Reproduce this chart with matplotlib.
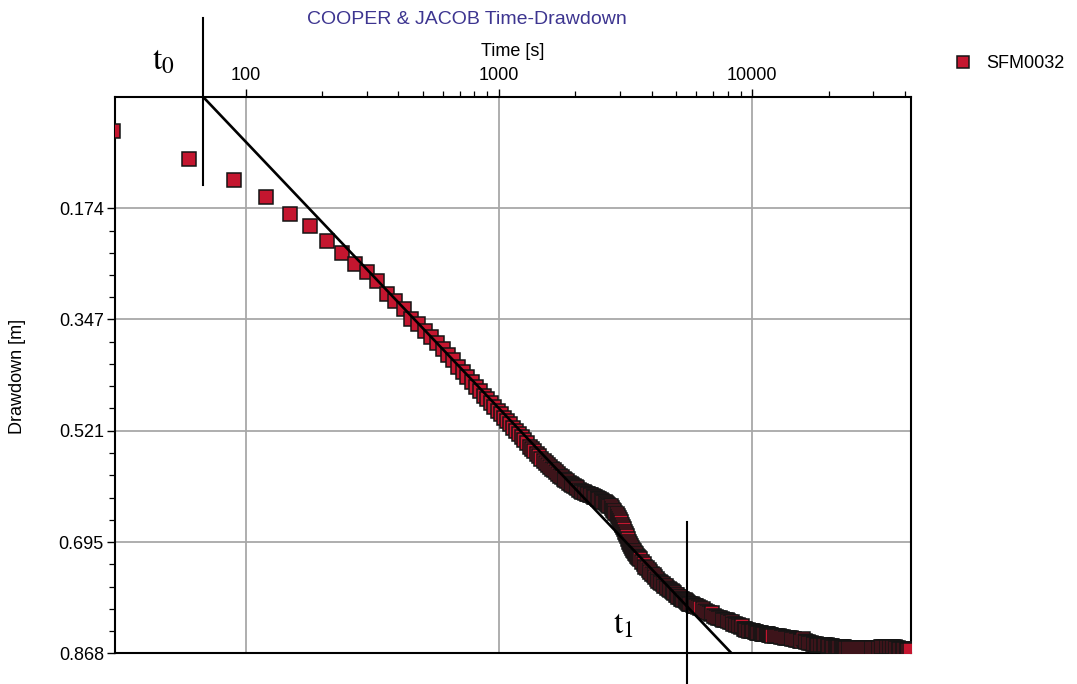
import numpy as np
import matplotlib
matplotlib.use("Agg")
import matplotlib.pyplot as plt
from matplotlib.lines import Line2D
from matplotlib.ticker import FixedLocator, NullFormatter

plt.rcParams['font.family'] = ['Liberation Sans', 'DejaVu Sans']
plt.rcParams['mathtext.fontset'] = 'stix'

# Pumping test SFM0032: elapsed time [s] and drawdown [m]
time_s = [
    # 30 s readings
    30, 60, 90, 120, 150, 180, 210, 240, 270, 300,
    330, 360, 390, 420, 450, 480, 510, 540, 570, 600,
    630, 660, 690, 720, 750, 780, 810, 840, 870, 900,
    930, 960, 990, 1020, 1050, 1080, 1110, 1140, 1170, 1200,
    1230, 1260, 1290, 1320, 1350, 1380, 1410, 1440, 1470, 1500,
    1530, 1560, 1590, 1620, 1650, 1680, 1710, 1740, 1770, 1800,
    1830, 1860, 1890, 1920, 1950, 1980, 2010, 2040, 2070, 2100,
    2130, 2160, 2190, 2220, 2250, 2280, 2310, 2340, 2370, 2400,
    2430, 2460, 2490, 2520, 2550, 2580, 2610, 2640, 2670, 2700,
    2730, 2760, 2790, 2820, 2850, 2880, 2910, 2940, 2970, 3000,
    3030, 3060, 3090, 3120, 3150, 3180, 3210, 3240, 3270, 3300,
    3330, 3360, 3390, 3420, 3450, 3480, 3510, 3540, 3570, 3600,
    # 60 s readings
    3660, 3720, 3780, 3840, 3900, 3960, 4020, 4080, 4140, 4200,
    4260, 4320, 4380, 4440, 4500, 4560, 4620, 4680, 4740, 4800,
    4860, 4920, 4980, 5040, 5100, 5160, 5220, 5280, 5340, 5400,
    5460, 5520, 5580, 5640, 5700, 5760, 5820, 5880, 5940, 6000,
    # 120 s readings
    6120, 6240, 6360, 6480, 6600, 6720, 6840, 6960, 7080, 7200,
    7320, 7440, 7560, 7680, 7800, 7920, 8040, 8160, 8280, 8400,
    8520, 8640, 8760, 8880, 9000, 9120, 9240, 9360, 9480, 9600,
    9720, 9840, 9960, 10080, 10200, 10320, 10440, 10560, 10680, 10800,
    10920, 11040, 11160, 11280, 11400, 11520, 11640, 11760, 11880, 12000,
    # 240 s readings
    12240, 12480, 12720, 12960, 13200, 13440, 13680, 13920, 14160, 14400,
    14640, 14880, 15120, 15360, 15600, 15840, 16080, 16320, 16560, 16800,
    17040, 17280, 17520, 17760, 18000, 18240, 18480, 18720, 18960, 19200,
    19440, 19680, 19920, 20160, 20400, 20640, 20880, 21120, 21360, 21600,
    21840, 22080, 22320, 22560, 22800, 23040, 23280, 23520, 23760, 24000,
    # 480 s readings
    24480, 24960, 25440, 25920, 26400, 26880, 27360, 27840, 28320, 28800,
    29280, 29760, 30240, 30720, 31200, 31680, 32160, 32640, 33120, 33600,
    34080, 34560, 35040, 35520, 36000, 36480, 36960, 37440, 37920, 38400,
    38880, 39360, 39840, 40320, 40800, 41280, 41760,
]
drawdown_m = [
    0.053, 0.097, 0.130, 0.156, 0.182, 0.202, 0.225, 0.244, 0.260, 0.273,
    0.287, 0.307, 0.318, 0.331, 0.346, 0.354, 0.365, 0.375, 0.384, 0.394,
    0.403, 0.411, 0.421, 0.430, 0.437, 0.445, 0.452, 0.459, 0.467, 0.472,
    0.478, 0.484, 0.490, 0.495, 0.501, 0.506, 0.510, 0.517, 0.522, 0.526,
    0.531, 0.536, 0.540, 0.546, 0.549, 0.553, 0.557, 0.561, 0.565, 0.568,
    0.571, 0.574, 0.577, 0.580, 0.583, 0.586, 0.589, 0.592, 0.594, 0.596,
    0.598, 0.600, 0.602, 0.604, 0.606, 0.608, 0.609, 0.611, 0.613, 0.615,
    0.616, 0.617, 0.618, 0.619, 0.620, 0.621, 0.622, 0.623, 0.624, 0.625,
    0.626, 0.627, 0.628, 0.629, 0.630, 0.632, 0.633, 0.634, 0.635, 0.637,
    0.638, 0.639, 0.641, 0.644, 0.646, 0.649, 0.651, 0.654, 0.657, 0.660,
    0.664, 0.668, 0.671, 0.675, 0.679, 0.683, 0.686, 0.690, 0.694, 0.698,
    0.701, 0.704, 0.707, 0.709, 0.712, 0.714, 0.716, 0.718, 0.720, 0.722,
    0.726, 0.729, 0.733, 0.736, 0.739, 0.742, 0.745, 0.747, 0.750, 0.752,
    0.755, 0.757, 0.759, 0.761, 0.763, 0.764, 0.766, 0.768, 0.770, 0.771,
    0.773, 0.775, 0.777, 0.778, 0.780, 0.781, 0.783, 0.784, 0.785, 0.786,
    0.787, 0.788, 0.790, 0.791, 0.791, 0.792, 0.793, 0.794, 0.795, 0.795,
    0.796, 0.798, 0.800, 0.802, 0.804, 0.806, 0.807, 0.805, 0.811, 0.812,
    0.813, 0.814, 0.815, 0.816, 0.817, 0.817, 0.818, 0.819, 0.820, 0.822,
    0.823, 0.824, 0.825, 0.826, 0.827, 0.826, 0.830, 0.831, 0.832, 0.832,
    0.833, 0.833, 0.834, 0.834, 0.835, 0.835, 0.836, 0.836, 0.837, 0.837,
    0.838, 0.838, 0.838, 0.839, 0.839, 0.839, 0.840, 0.840, 0.840, 0.841,
    0.841, 0.842, 0.842, 0.843, 0.843, 0.844, 0.844, 0.845, 0.845, 0.846,
    0.846, 0.847, 0.848, 0.849, 0.849, 0.846, 0.850, 0.851, 0.851, 0.852,
    0.853, 0.854, 0.854, 0.854, 0.855, 0.855, 0.855, 0.855, 0.856, 0.856,
    0.856, 0.856, 0.857, 0.857, 0.857, 0.857, 0.858, 0.858, 0.858, 0.858,
    0.859, 0.859, 0.859, 0.859, 0.859, 0.859, 0.860, 0.860, 0.860, 0.860,
    0.860, 0.860, 0.860, 0.860, 0.860, 0.860, 0.860, 0.860, 0.860, 0.860,
    0.860, 0.860, 0.860, 0.860, 0.860, 0.860, 0.859, 0.859, 0.858, 0.858,
    0.858, 0.858, 0.858, 0.858, 0.859, 0.859, 0.860, 0.860, 0.861, 0.861,
    0.861, 0.862, 0.862, 0.862, 0.863, 0.863, 0.863,
]

# Cooper-Jacob straight-line fit and the two picked times
fit_time = [68, 8260]
fit_drawdown = [0.0, 0.868]
t0_time = 68
t0_span = [-0.124, 0.138]
t1_time = 5540
t1_span = [0.664, 0.919]

x_major = [100, 1000, 10000]
x_major_labels = ['100', '1000', '10000']
x_minor = [200, 300, 400, 500, 600, 700, 800, 900,
           2000, 3000, 4000, 5000, 6000, 7000, 8000, 9000,
           20000, 30000, 40000]
y_major = [0.174, 0.347, 0.521, 0.695, 0.868]
y_major_labels = ['0.174', '0.347', '0.521', '0.695', '0.868']

W, H = 1077, 684
fig = plt.figure(figsize=(W / 100, H / 100), dpi=100)
ax = fig.add_axes([115 / W, 1 - 653 / H, (911 - 115) / W, (653 - 97) / H])

ax.set_xscale('log')
ax.set_xlim(30.5, 42300)
ax.set_ylim(0.868, 0.0)

ax.plot(time_s, drawdown_m, ls='none', marker='s', ms=9.8,
        mfc='#c4162f', mec='#141414', mew=1.1, zorder=3)

ax.plot(fit_time, fit_drawdown, color='black', lw=1.9, zorder=4,
        solid_capstyle='butt')
ax.plot([t0_time, t0_time], t0_span, color='black', lw=1.5,
        clip_on=False, zorder=4)
ax.plot([t1_time, t1_time], t1_span, color='black', lw=1.5,
        clip_on=False, zorder=4)

# Axes styling
ax.xaxis.tick_top()
ax.xaxis.set_major_locator(FixedLocator(x_major))
ax.set_xticklabels(x_major_labels)
ax.xaxis.set_minor_locator(FixedLocator(x_minor))
ax.xaxis.set_minor_formatter(NullFormatter())

y_minor = []
for a, b in zip(y_major[:-1], y_major[1:]):
    y_minor.extend(np.linspace(a, b, 6)[1:-1])
ax.yaxis.set_major_locator(FixedLocator(y_major))
ax.set_yticklabels(y_major_labels)
ax.yaxis.set_minor_locator(FixedLocator(y_minor))

ax.tick_params(axis='both', which='major', length=6, width=1.0,
               direction='out', labelsize=13, colors='black')
ax.tick_params(axis='x', which='major', pad=3)
ax.tick_params(axis='y', which='major', pad=2)
ax.tick_params(axis='both', which='minor', length=4, width=0.9,
               direction='out')

ax.grid(which='major', color='#a8a8a8', lw=1.3)
ax.set_axisbelow(True)
for sp in ax.spines.values():
    sp.set_color('black')
    sp.set_linewidth(1.5)

fig.text(467 / W, 1 - 20 / H, 'COOPER & JACOB Time-Drawdown',
         ha='center', va='center', color='#3d3590', fontsize=14)
fig.text(513 / W, 1 - 52 / H, 'Time [s]', ha='center', va='center',
         fontsize=13)
fig.text(18 / W, 1 - 376 / H, 'Drawdown [m]', ha='center', va='center',
         rotation=90, fontsize=13)

fig.text(152 / W, 1 - 70 / H, r'$\mathrm{t}_0$', ha='left',
         va='baseline', fontsize=24)
fig.text(613 / W, 1 - 633 / H, r'$\mathrm{t}_1$', ha='left',
         va='baseline', fontsize=24)

handle = Line2D([], [], ls='none', marker='s', ms=9, mfc='#c4162f',
                mec='#141414', mew=1.1)
fig.legend([handle], ['SFM0032'], loc='center left',
           bbox_to_anchor=(954 / W, 1 - 64 / H), frameon=False,
           fontsize=13, handlelength=1.0, handletextpad=0.8,
           borderpad=0, borderaxespad=0)

fig.savefig('out.png', dpi=100)
